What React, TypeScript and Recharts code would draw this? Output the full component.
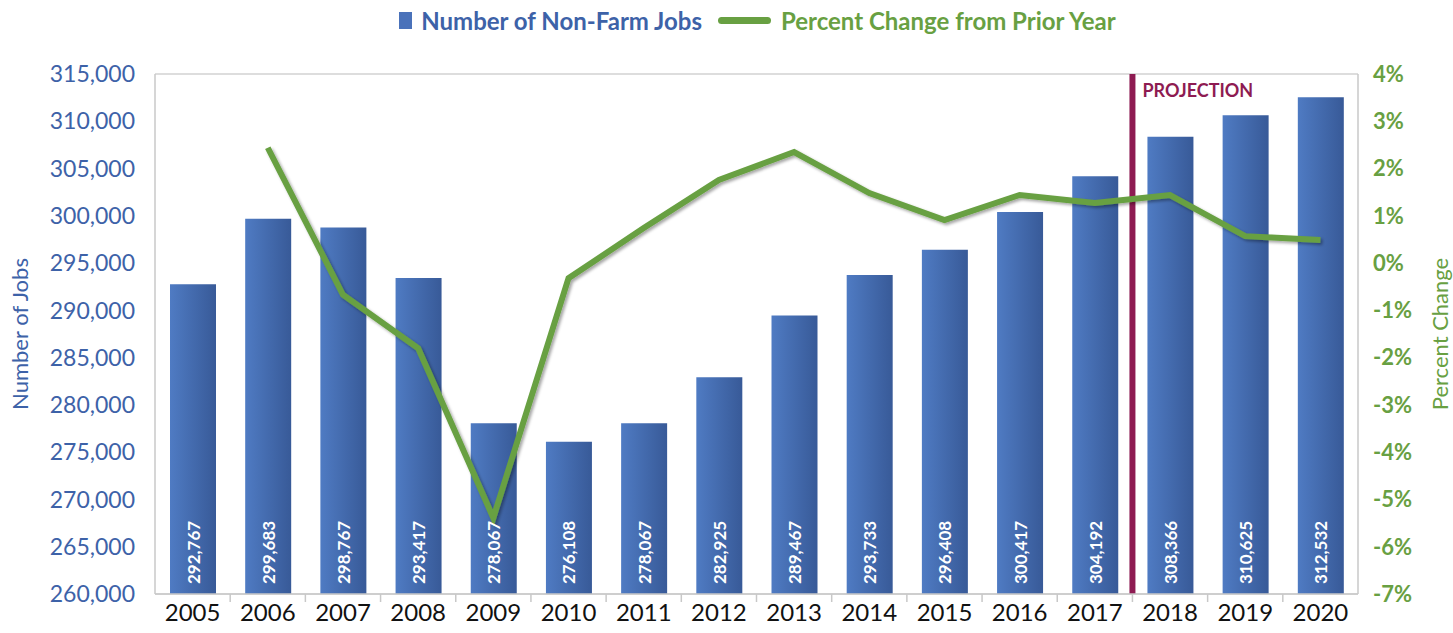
import React from 'react'
import {
  ComposedChart,
  Bar,
  Line,
  XAxis,
  YAxis,
  CartesianGrid,
  ReferenceLine,
  LabelList,
} from 'recharts'

const years = ['2005', '2006', '2007', '2008', '2009', '2010', '2011', '2012', '2013', '2014', '2015', '2016', '2017', '2018', '2019', '2020']
const jobs = [292767, 299683, 298767, 293417, 278067, 276108, 278067, 282925, 289467, 293733, 296408, 300417, 304192, 308366, 310625, 312532]
const pctChange = [null, 2.44, -0.67, -1.8, -5.39, -0.32, 0.74, 1.76, 2.35, 1.48, 0.91, 1.44, 1.27, 1.44, 0.57, 0.49]
const jobTicks = [260000, 265000, 270000, 275000, 280000, 285000, 290000, 295000, 300000, 305000, 310000, 315000]
const pctTicks = [-7, -6, -5, -4, -3, -2, -1, 0, 1, 2, 3, 4]

const BLUE = '#3d62a8'
const GREEN = '#68a042'
const MAROON = '#8e1b52'
const FONT = 'Lato, "Open Sans", sans-serif'

const data = years.map((year, i) => ({ year, jobs: jobs[i], pct: pctChange[i] }))

// rotated white label sitting at the bottom of each bar
const BarValue = (props: any) => {
  const { x, y, width, height, value } = props
  const cx = x + width / 2
  const bottom = y + height - 10
  return (
    <text
      x={cx}
      y={bottom}
      transform={`rotate(-90, ${cx}, ${bottom})`}
      fill="#fff"
      fontSize={17}
      fontWeight={700}
      fontFamily={FONT}
      textAnchor="start"
      dominantBaseline="central"
    >
      {Number(value).toLocaleString('en-US')}
    </text>
  )
}

// year label plus a small tick mark on the category boundary
const YearTick = (props: any) => {
  const { x, y, payload, index } = props
  const half = 1203 / 16 / 2
  return (
    <g>
      {index < years.length - 1 && (
        <line x1={x + half} x2={x + half} y1={y - 8} y2={y} stroke="#c8c8c8" strokeWidth={1.5} />
      )}
      <text x={x} y={y + 19} textAnchor="middle" fill="#111" fontSize={24} fontFamily={FONT}>
        {payload.value}
      </text>
    </g>
  )
}

export default function App() {
  return (
    <div style={{ position: 'absolute', left: 0, top: 0, width: 1453, height: 633, background: '#fff' }}>
      {/* legend */}
      <div
        style={{
          position: 'absolute',
          top: 6,
          left: 0,
          width: 1453,
          display: 'flex',
          justifyContent: 'center',
          alignItems: 'center',
          fontFamily: FONT,
          fontWeight: 700,
          fontSize: 24,
          paddingLeft: 62,
          boxSizing: 'border-box',
        }}
      >
        <span style={{ display: 'inline-block', width: 13, height: 17, background: '#4a72ba', marginRight: 9 }} />
        <span style={{ color: BLUE }}>Number of Non-Farm Jobs</span>
        <span style={{ display: 'inline-block', width: 53, height: 7, borderRadius: 4, background: GREEN, marginLeft: 16, marginRight: 10 }} />
        <span style={{ color: GREEN }}>Percent Change from Prior Year</span>
      </div>
      <ComposedChart
        width={1453}
        height={633}
        data={data}
        margin={{ top: 74, right: 0, bottom: 0, left: 0 }}
        barSize={46}
      >
        <defs>
          <linearGradient id="barFill" x1="0" y1="0" x2="1" y2="0">
            <stop offset="0%" stopColor="#4f7bc3" />
            <stop offset="100%" stopColor="#385a98" />
          </linearGradient>
          <filter id="lineShadow" x="-10%" y="-10%" width="120%" height="120%">
            <feDropShadow dx="2" dy="2" stdDeviation="1.5" floodColor="#000" floodOpacity="0.35" />
          </filter>
        </defs>
        <CartesianGrid vertical={false} stroke="#d2d2d2" strokeWidth={1.5} />
        <XAxis
          dataKey="year"
          height={39}
          tickLine={false}
          axisLine={{ stroke: '#c8c8c8', strokeWidth: 1.5 }}
          tick={<YearTick />}
          interval={0}
        />
        <YAxis
          yAxisId="left"
          width={155}
          domain={[260000, 315000]}
          ticks={jobTicks}
          allowDataOverflow
          tickLine={false}
          tickSize={0}
          tickMargin={20}
          axisLine={{ stroke: '#c8c8c8', strokeWidth: 1.5 }}
          tick={{ fill: BLUE, fontSize: 23, fontFamily: FONT }}
          tickFormatter={(v: number) => v.toLocaleString('en-US')}
          label={{ value: 'Number of Jobs', angle: -90, position: 'insideLeft', offset: 20, fill: BLUE, fontSize: 22, fontFamily: FONT, style: { textAnchor: 'middle' } }}
        />
        <YAxis
          yAxisId="right"
          orientation="right"
          width={95}
          domain={[-7, 4]}
          ticks={pctTicks}
          allowDataOverflow
          tickLine={false}
          tickSize={0}
          tickMargin={15}
          axisLine={{ stroke: '#c8c8c8', strokeWidth: 1.5 }}
          tick={{ fill: GREEN, fontSize: 22, fontWeight: 700, fontFamily: FONT, textAnchor: 'start' }}
          tickFormatter={(v: number) => `${v}%`}
          label={{ value: 'Percent Change', angle: -90, position: 'insideRight', offset: 13, fill: GREEN, fontSize: 22, fontFamily: FONT, style: { textAnchor: 'middle' } }}
        />
        <Bar yAxisId="left" dataKey="jobs" fill="url(#barFill)" isAnimationActive={false}>
          <LabelList dataKey="jobs" content={<BarValue />} />
        </Bar>
        <ReferenceLine
          yAxisId="left"
          x="2018"
          position="start"
          stroke={MAROON}
          strokeWidth={6}
          label={{ value: 'PROJECTION', position: 'insideTopLeft', offset: 10, fill: MAROON, fontSize: 18, fontWeight: 700, fontFamily: FONT }}
        />
        <Line
          yAxisId="right"
          dataKey="pct"
          stroke={GREEN}
          strokeWidth={6}
          dot={false}
          activeDot={false}
          connectNulls={false}
          filter="url(#lineShadow)"
          isAnimationActive={false}
        />
      </ComposedChart>
    </div>
  )
}
